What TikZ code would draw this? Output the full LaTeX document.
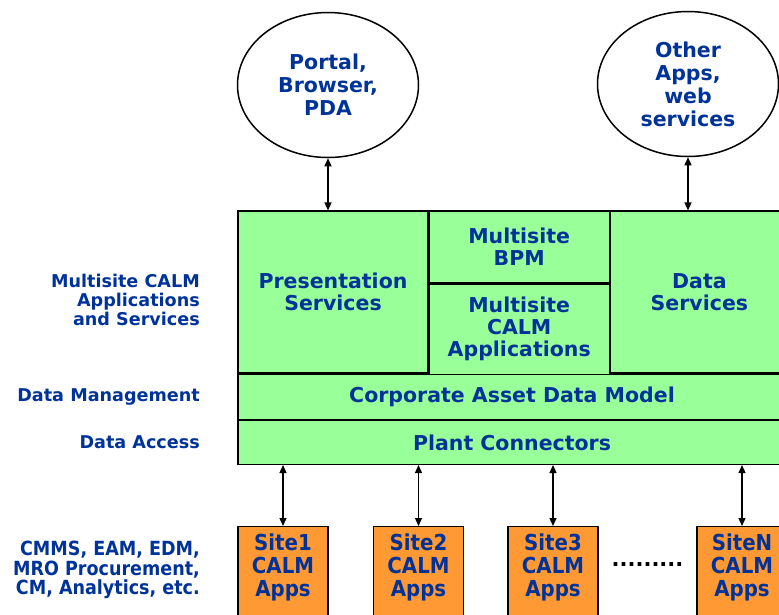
\documentclass[tikz,border=0pt]{standalone}
\usepackage{fontspec}
\setmainfont{DejaVu Sans}
\newfontfamily\narrowfont{DejaVu Sans Condensed}
\usetikzlibrary{
  arrows.meta,
  positioning,
  shapes.geometric,
}
\definecolor{calmblue}{RGB}{0, 51, 153}
\definecolor{calmgreen}{RGB}{153, 255, 153}
\definecolor{calmorange}{RGB}{255, 153, 51}
\tikzset{
  layer/.style={rectangle,draw,line width=1.2pt,fill=calmgreen,inner sep=0pt,
    align=center,text=calmblue,font=\fontsize{20.5}{22}\selectfont\bfseries},
  client/.style={ellipse,draw,line width=1.5pt,inner sep=0pt,minimum width=181,
    minimum height=145,align=center,text=calmblue,font=\fontsize{20.5}{23}\selectfont\bfseries},
  site/.style={rectangle,draw,line width=1.2pt,fill=calmorange,inner sep=0pt,
    minimum width=90,text height=70pt,text depth=25pt,anchor=north,align=center,
    text=calmblue,font=\narrowfont\fontsize{22}{23}\selectfont\bfseries},
  lbl/.style={anchor=east,inner sep=0pt,align=right,text=calmblue,
    font=\fontsize{17.6}{19}\selectfont\bfseries},
  link/.style={{Triangle[length=8pt,width=7pt]}-{Triangle[length=8pt,width=7pt]},line width=1.3pt},
}

\begin{document}
\begin{tikzpicture}[x=1pt,y=-1pt,node distance=0mm and 0mm]
  \useasboundingbox (0,0) rectangle (779,614);

  % clients
  \node[client] (portal) at (328,85) {Portal,\\Browser,\\PDA};
  \node[client] (other)  at (688,84) {Other\\Apps,\\web\\services};

  % multisite CALM layers
  \node[layer,minimum width=190,minimum height=162] (pres) at (333,292) {Presentation\\Services};
  \node[layer,minimum width=180,minimum height=72] (bpm) [below right=of pres.north east] {Multisite\\BPM};
  \node[layer,minimum width=180,minimum height=90] (apps) [below=of bpm] {Multisite\\CALM\\Applications};
  \node[layer,minimum width=178,minimum height=162] (data) [below right=of bpm.north east] {Data\\Services};
  \node[layer,minimum width=548,minimum height=45] (corp) [below right=of pres.south west] {Corporate Asset Data Model};
  \node[layer,minimum width=548,minimum height=44] (plant) [below=of corp] {Plant Connectors};

  % sites
  \node[site] (site1) at (283,526) {Site1\\CALM\\Apps};
  \node[site] (site2) at (418.5,526) {Site2\\CALM\\Apps};
  \node[site] (site3) at (553,526) {Site3\\CALM\\Apps};
  \node[site] (siteN) at (742,526) {SiteN\\CALM\\Apps};
  \node[font=\fontsize{21}{21}\selectfont\bfseries,inner sep=0pt] (dots) at (647.5,565) {.........};

  % left labels
  \node[lbl] (lblapps)  at (200,300) {Multisite CALM\\Applications\\and Services};
  \node[lbl] (lbldm)    at (200,397) {Data Management};
  \node[lbl] (lblda)    at (200,442) {Data Access};
  \node[lbl,font=\narrowfont\fontsize{19.5}{19.5}\selectfont\bfseries] (lblsite) at (200,570) {CMMS, EAM, EDM,\\MRO Procurement,\\CM, Analytics, etc.};

  % links
  \draw[link] (portal.south) -- (portal.south |- pres.north);
  \draw[link] (other.south) -- (other.south |- data.north);
  \foreach \s in {site1,site2,site3,siteN}
    \draw[link] (\s.north |- plant.south) -- (\s.north);
\end{tikzpicture}
\end{document}
